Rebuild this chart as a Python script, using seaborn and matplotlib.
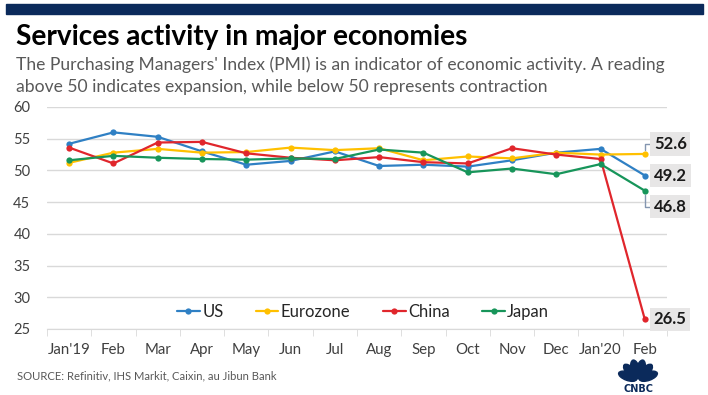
import matplotlib.pyplot as plt
import matplotlib.patches as mpatches
import seaborn as sns
import pandas as pd
import numpy as np

# PMI readings, Jan 2019 - Feb 2020
months = ["Jan'19", "Feb", "Mar", "Apr", "May", "Jun", "Jul", "Aug", "Sep",
          "Oct", "Nov", "Dec", "Jan'20", "Feb"]
us = [54.2, 56.0, 55.3, 53.0, 50.9, 51.5, 53.0, 50.7, 50.9, 50.6, 51.6, 52.8, 53.4, 49.2]
eurozone = [51.2, 52.8, 53.4, 52.8, 52.9, 53.6, 53.2, 53.5, 51.6, 52.2, 51.9, 52.8, 52.5, 52.6]
china = [53.6, 51.1, 54.4, 54.5, 52.7, 52.0, 51.6, 52.1, 51.3, 51.1, 53.5, 52.5, 51.8, 26.5]
japan = [51.6, 52.3, 52.0, 51.8, 51.7, 51.9, 51.8, 53.3, 52.8, 49.7, 50.3, 49.4, 51.0, 46.8]

series = {"US": us, "Eurozone": eurozone, "China": china, "Japan": japan}
colors = {"US": "#2f80c4", "Eurozone": "#ffc000", "China": "#e0262c", "Japan": "#17955a"}

sns.set_style("white")
plt.rcParams["font.family"] = ["Lato", "DejaVu Sans"]

W, H = 708, 395
fig = plt.figure(figsize=(W / 100, H / 100), dpi=100)

# navy band across the top
fig.patches.append(mpatches.Rectangle((6 / W, 1 - 14 / H), 697 / W, 10 / H,
                                      transform=fig.transFigure, color="#0b2a5b", zorder=0))

fig.text(16 / W, 1 - 37 / H, "Services activity in major economies",
         fontsize=20.2, fontweight="bold", color="black", va="center")
fig.text(16 / W, 1 - 65 / H,
         "The Purchasing Managers' Index (PMI) is an indicator of economic activity. A reading",
         fontsize=12.6, color="#595959", va="center")
fig.text(16 / W, 1 - 87 / H,
         "above 50 indicates expansion, while below 50 represents contraction",
         fontsize=12.6, color="#595959", va="center")
fig.text(17 / W, 1 - 376 / H, "SOURCE: Refinitiv, IHS Markit, Caixin, au Jibun Bank",
         fontsize=8.1, color="#595959", va="center")

ax = fig.add_axes([47 / W, 1 - 329 / H, 620 / W, 222 / H])

rows = []
for name, vals in series.items():
    for i, v in enumerate(vals):
        rows.append({"month": i, "PMI": v, "region": name})
df = pd.DataFrame(rows)

sns.lineplot(data=df, x="month", y="PMI", hue="region", palette=colors, marker="o",
             markersize=4.5, markeredgewidth=0, linewidth=1.6, ax=ax, zorder=3)

ax.set_xlim(-0.5, len(months) - 0.5)
ax.set_ylim(25, 60)
ax.set_yticks(np.arange(25, 61, 5))
ax.yaxis.grid(True, color="#d9d9d9", linewidth=1)
ax.set_xticks(range(len(months)))
ax.set_xticklabels(months)
ax.set_xticks(np.arange(-0.5, len(months), 1), minor=True)
ax.tick_params(axis="x", which="major", length=0, pad=10, labelsize=10.8, labelcolor="#404040")
ax.tick_params(axis="x", which="minor", length=5, color="#d9d9d9", direction="out", bottom=True)
ax.tick_params(axis="y", length=0, pad=12, labelsize=10.5, labelcolor="#404040")
for s in ["left", "right", "top"]:
    ax.spines[s].set_visible(False)
ax.spines["bottom"].set_color("#d9d9d9")
ax.set_xlabel("")
ax.set_ylabel("")

handles, labels = ax.get_legend_handles_labels()
ax.legend(handles, labels, loc="center", bbox_to_anchor=(0.51, 0.077), ncol=4,
          frameon=False, fontsize=12, handlelength=1.35, handletextpad=0.15,
          columnspacing=1.95, labelcolor="#262626")

# end-of-line value labels
last = len(months) - 1
labels_cfg = [("Eurozone", 52.6, 10, True), ("US", 49.2, 0, False),
              ("Japan", 46.8, -16, True), ("China", 26.5, 0, False)]
for name, val, dy, leader in labels_cfg:
    kw = {}
    if leader:
        kw["arrowprops"] = dict(arrowstyle="-", color="#8496b0", lw=1,
                                connectionstyle="angle,angleA=0,angleB=90,rad=0",
                                shrinkA=0, shrinkB=3)
    ax.annotate(f"{val:.1f}", xy=(last, val), xytext=(9, dy), textcoords="offset pixels",
                fontsize=12, fontweight="bold", color="#1a1a1a", va="center", ha="left",
                bbox=dict(boxstyle="square,pad=0.22", fc="#e7e6e6", ec="none"),
                annotation_clip=False, zorder=5, **kw)

# CNBC peacock mark
lax = fig.add_axes([612 / W, 1 - 393 / H, 52 / W, 40 / H])
lax.set_xlim(-1.3, 1.3)
lax.set_ylim(-1.0, 1.0)
lax.axis("off")
for k, ang in enumerate(np.linspace(20, 160, 6)):
    lax.add_patch(mpatches.Ellipse((0.55 * np.cos(np.radians(ang)), -0.35 + 0.55 * np.sin(np.radians(ang))),
                                   0.42, 0.95, angle=ang - 90, color="#0b2a5b"))
lax.text(0, -0.78, "CNBC", ha="center", va="center", fontsize=7, fontweight="bold",
         color="#0b2a5b", family="DejaVu Sans")

plt.savefig("out.png", dpi=100)
